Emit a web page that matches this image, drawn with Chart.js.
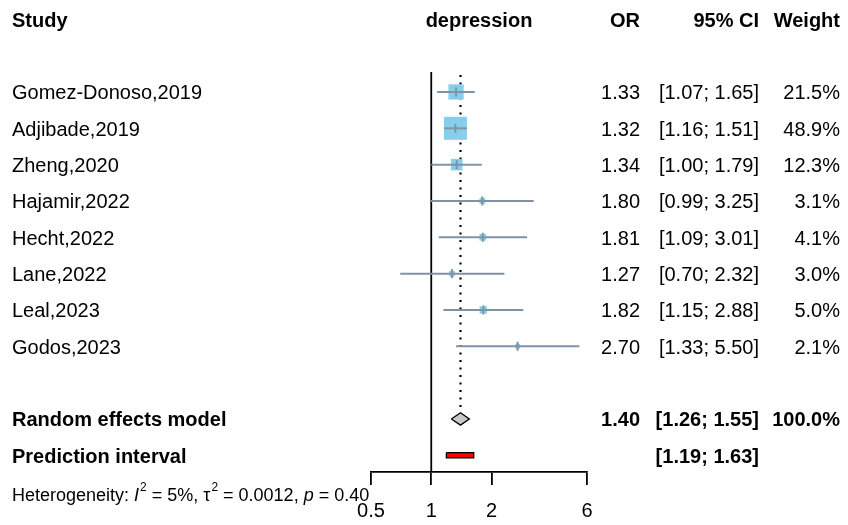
<!DOCTYPE html>
<html>
<head>
<meta charset="utf-8">
<script src="https://cdn.jsdelivr.net/npm/chart.js@4/dist/chart.umd.min.js"></script>
<style>
html,body{margin:0;padding:0;background:#fff;}
canvas{display:block;}
</style>
</head>
<body>
<canvas id="c" width="848" height="525"></canvas>
<script>
const studies = ["Gomez-Donoso,2019","Adjibade,2019","Zheng,2020","Hajamir,2022","Hecht,2022","Lane,2022","Leal,2023","Godos,2023"];
const orVals = [1.33,1.32,1.34,1.80,1.81,1.27,1.82,2.70];
const ciLow = [1.07,1.16,1.00,0.99,1.09,0.70,1.15,1.33];
const ciHigh = [1.65,1.51,1.79,3.25,3.01,2.32,2.88,5.50];
const weights = [21.5,48.9,12.3,3.1,4.1,3.0,5.0,2.1];
const reOR = 1.40, reLow = 1.26, reHigh = 1.55;
const piLow = 1.19, piHigh = 1.63;
const tickVals = [0.5,1,2,6];
const headers = {study:"Study", effect:"depression", or:"OR", ci:"95% CI", w:"Weight"};
const hetText = {i2:"5%", tau2:"0.0012", p:"0.40"};

const FONT = '"Liberation Sans", Arial, sans-serif';
const fmt2 = v => v.toFixed(2);
const fmtCI = (l,h) => "[" + fmt2(l) + "; " + fmt2(h) + "]";

// row positions (row units): header row 0, studies rows 2..9, RE row 11, PI row 12
const studyRow = i => i + 2;
const reRow = 11, piRow = 12;
const ciColor = '#8093a6';
const sqColor = '#87ceeb';

const datasets = [];
// tick marks at estimates (on top)
datasets.push({
  type:'scatter', order:1,
  data: orVals.map((v,i)=>({x:v,y:studyRow(i)})),
  pointStyle:'line', pointRotation:90, pointRadius:4.5,
  borderColor:ciColor, borderWidth:2, backgroundColor:ciColor
});
// CI lines
orVals.forEach((v,i)=>{
  datasets.push({
    type:'line', order:2,
    data:[{x:ciLow[i],y:studyRow(i)},{x:ciHigh[i],y:studyRow(i)}],
    borderColor:ciColor, borderWidth:2, pointRadius:0, fill:false
  });
});
// squares
datasets.push({
  type:'scatter', order:3,
  data: orVals.map((v,i)=>({x:v,y:studyRow(i)})),
  pointStyle:'rect',
  pointRadius: weights.map(w => 3.29*Math.sqrt(w)/(2*Math.SQRT1_2)),
  backgroundColor:sqColor, borderWidth:0, borderColor:sqColor
});
// reference line at 1
datasets.push({
  type:'line', order:4,
  data:[{x:1,y:1.45},{x:1,y:12.46}],
  borderColor:'#000', borderWidth:1.8, pointRadius:0, fill:false
});
// dotted summary line
datasets.push({
  type:'line', order:5,
  data:[{x:reOR,y:1.53},{x:reOR,y:10.8}],
  borderColor:'#000', borderWidth:2.2, borderDash:[2.2,5.3], pointRadius:0, fill:false
});
// diamond
const dh = 0.17;
datasets.push({
  type:'line', order:0,
  data:[{x:reLow,y:reRow},{x:reOR,y:reRow-dh},{x:reHigh,y:reRow},{x:reOR,y:reRow+dh},{x:reLow,y:reRow}],
  borderColor:'#000', borderWidth:1.3, backgroundColor:'#c8c8c8', fill:'shape', pointRadius:0, tension:0
});
// prediction interval
const ph = 0.072;
datasets.push({
  type:'line', order:0,
  data:[{x:piLow,y:piRow-ph},{x:piHigh,y:piRow-ph},{x:piHigh,y:piRow+ph},{x:piLow,y:piRow+ph},{x:piLow,y:piRow-ph}],
  borderColor:'#000', borderWidth:1.3, backgroundColor:'#ff0000', fill:'shape', pointRadius:0, tension:0
});

const textPlugin = {
  id:'forestText',
  afterDraw(chart){
    const ctx = chart.ctx;
    const ys = chart.scales.y;
    const ca = chart.chartArea;
    const off = 2;
    ctx.save();
    ctx.fillStyle = '#000';
    ctx.textBaseline = 'middle';
    const xStudy = 12, xOR = 640, xCI = 759, xW = 840;
    const cx = (ca.left + ca.right)/2;
    // header
    ctx.font = 'bold 20px ' + FONT;
    let y = ys.getPixelForValue(0) + off;
    ctx.textAlign='left'; ctx.fillText(headers.study, xStudy, y);
    ctx.textAlign='center'; ctx.fillText(headers.effect, cx, y);
    ctx.textAlign='right';
    ctx.fillText(headers.or, xOR, y);
    ctx.fillText(headers.ci, xCI, y);
    ctx.fillText(headers.w, xW, y);
    // studies
    ctx.font = '20px ' + FONT;
    studies.forEach((s,i)=>{
      const yy = ys.getPixelForValue(studyRow(i)) + off;
      ctx.textAlign='left'; ctx.fillText(s, xStudy, yy);
      ctx.textAlign='right';
      ctx.fillText(fmt2(orVals[i]), xOR, yy);
      ctx.fillText(fmtCI(ciLow[i],ciHigh[i]), xCI, yy);
      ctx.fillText(weights[i].toFixed(1)+"%", xW, yy);
    });
    // RE model
    ctx.font = 'bold 20px ' + FONT;
    y = ys.getPixelForValue(reRow) + off;
    ctx.textAlign='left'; ctx.fillText("Random effects model", xStudy, y);
    ctx.textAlign='right';
    ctx.fillText(fmt2(reOR), xOR, y);
    ctx.fillText(fmtCI(reLow,reHigh), xCI, y);
    ctx.fillText("100.0%", xW, y);
    y = ys.getPixelForValue(piRow) + off;
    ctx.textAlign='left'; ctx.fillText("Prediction interval", xStudy, y);
    ctx.textAlign='right';
    ctx.fillText(fmtCI(piLow,piHigh), xCI, y);
    // heterogeneity
    y = ca.bottom + 24;
    ctx.textAlign='left';
    let x = xStudy;
    const seg = (t, font, dy) => {
      ctx.font = font;
      ctx.fillText(t, x, y + (dy||0));
      x += ctx.measureText(t).width;
    };
    const nf = '18px ' + FONT, itf = 'italic 18px ' + FONT, sf = '12px ' + FONT;
    seg("Heterogeneity: ", nf);
    seg("I", itf);
    x += 1;
    seg("2", sf, -8);
    seg(" = " + hetText.i2 + ", ", nf);
    seg("\u03c4", nf);
    x += 1;
    seg("2", sf, -8);
    seg(" = " + hetText.tau2 + ", ", nf);
    seg("p", itf);
    seg(" = " + hetText.p, nf);
    ctx.restore();
  }
};

new Chart(document.getElementById('c'), {
  type:'scatter',
  data:{datasets},
  options:{
    responsive:false, animation:false, events:[],
    layout:{padding:{left:371, right:261, top:72, bottom:0}},
    plugins:{legend:{display:false}, tooltip:{enabled:false}},
    scales:{
      x:{
        type:'logarithmic', min:0.5, max:6, position:'bottom',
        afterBuildTicks: s => { s.ticks = tickVals.map(v=>({value:v})); },
        afterFit: s => { s.height = 53; },
        border:{display:true, color:'#000', width:1.8},
        grid:{display:true, drawOnChartArea:false, drawTicks:true, tickLength:13, color:'#000', lineWidth:1.8},
        ticks:{color:'#000', font:{size:20, family:FONT}, padding:14, autoSkip:false, maxRotation:0, minRotation:0,
          callback: v => String(v)}
      },
      y:{type:'linear', reverse:true, min:1.45, max:12.46, display:false}
    }
  },
  plugins:[textPlugin]
});
</script>
</body>
</html>
